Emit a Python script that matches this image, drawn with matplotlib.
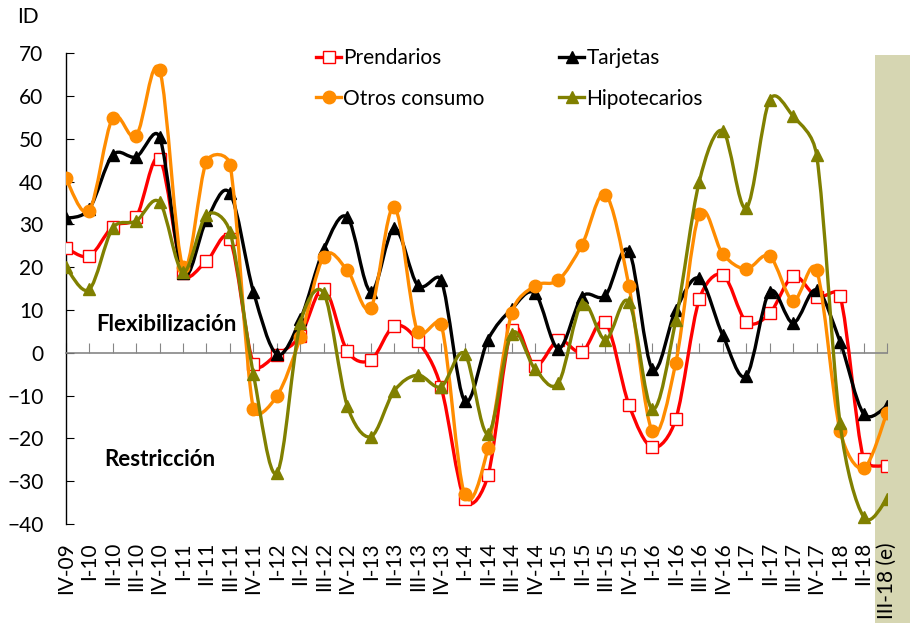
import numpy as np
import matplotlib
matplotlib.use("Agg")
import matplotlib.pyplot as plt
from matplotlib.path import Path
from matplotlib.patches import PathPatch, Rectangle
from matplotlib.lines import Line2D

plt.rcParams['font.family'] = ['Lato', 'DejaVu Sans']

# Data
quarters = ["IV-09", "I-10", "II-10", "III-10", "IV-10", "I-11", "II-11", "III-11",
            "IV-11", "I-12", "II-12", "III-12", "IV-12", "I-13", "II-13", "III-13",
            "IV-13", "I-14", "II-14", "III-14", "IV-14", "I-15", "II-15", "III-15",
            "IV-15", "I-16", "II-16", "III-16", "IV-16", "I-17", "II-17", "III-17",
            "IV-17", "I-18", "II-18", "III-18 (e)"]

prendarios = [24.6, 22.6, 29.5, 31.7, 45.4, 18.6, 21.4, 26.5,
              -2.5, -0.4, 4.0, 15.0, 0.4, -1.7, 6.3, 2.8,
              -8.1, -34.2, -28.6, 5.3, -3.0, 3.0, 0.2, 7.2,
              -12.1, -22.1, -15.5, 12.5, 18.3, 7.3, 9.2, 17.9,
              13.1, 13.3, -24.7, -26.4]

tarjetas = [31.4, 33.6, 46.2, 45.8, 50.4, 18.6, 31.0, 37.3,
            14.3, -0.3, 7.8, 24.2, 31.7, 14.3, 29.1, 15.8,
            17.0, -11.2, 3.1, 10.2, 13.9, 1.0, 13.1, 13.4,
            23.8, -3.8, 10.0, 17.4, 4.1, -5.4, 14.3, 7.0,
            14.7, 2.6, -14.2, -12.5]

otros_consumo = [40.8, 33.2, 54.8, 50.7, 66.1, 20.1, 44.7, 44.0,
                 -13.2, -10.1, 3.6, 22.5, 19.3, 10.5, 34.1, 4.8,
                 6.7, -33.1, -22.2, 9.2, 15.7, 17.0, 25.2, 37.0,
                 15.7, -18.3, -2.3, 32.4, 23.1, 19.6, 22.6, 12.2,
                 19.3, -18.2, -27.0, -14.0]

hipotecarios = [20.1, 14.8, 29.1, 30.8, 35.2, 18.9, 32.2, 28.3,
                -5.0, -28.1, 7.0, 13.9, -12.4, -19.6, -8.9, -5.2,
                -7.9, -0.2, -18.9, 4.5, -3.8, -7.0, 11.5, 3.1,
                11.9, -13.2, 7.6, 40.0, 51.9, 33.8, 59.1, 55.3,
                46.2, -16.4, -38.3, -34.2]

# pixels per data unit, used so the smoothing behaves like a spreadsheet's
PX_X = 23.49
PX_Y = 4.277


def smooth_path(xs, ys):
    # Bezier segments, tangent arms 1/6 of the chord, capped at half the segment
    p = np.column_stack([xs, ys]).astype(float)
    s = np.array([PX_X, PX_Y])
    n = len(p)
    verts = [p[0]]
    codes = [Path.MOVETO]
    for i in range(n - 1):
        p0 = p[i - 1] if i > 0 else p[i]
        p1 = p[i]
        p2 = p[i + 1]
        p3 = p[i + 2] if i + 2 < n else p[i + 1]
        d02 = np.hypot(*((p2 - p0) * s))
        d12 = np.hypot(*((p2 - p1) * s))
        d13 = np.hypot(*((p3 - p1) * s))
        f1 = 1 / 6 if d02 / 6 < d12 / 2 or d02 == 0 else d12 / (2 * d02)
        f2 = 1 / 6 if d13 / 6 < d12 / 2 or d13 == 0 else d12 / (2 * d13)
        c1 = p1 + (p2 - p0) * f1
        c2 = p2 - (p3 - p1) * f2
        verts += [c1, c2, p2]
        codes += [Path.CURVE4] * 3
    return Path(verts, codes)


fig = plt.figure(figsize=(9.1, 6.27), dpi=100)
ax = fig.add_axes([0.0722, 0.1643, 0.9025, 0.7507])
ax.patch.set_alpha(0)

# shaded estimate band
fig.add_artist(Rectangle((875 / 910, 0.006), 35 / 910, 1 - 55 / 627 - 0.006,
                         transform=fig.transFigure, facecolor="#D6D6B2",
                         edgecolor="none", zorder=-1))

x = np.arange(len(quarters))
series = [
    ("Prendarios", prendarios, "#FF0000", dict(marker="s", markersize=8.5, markerfacecolor="white",
                                              markeredgecolor="#FF0000", markeredgewidth=1.0)),
    ("Tarjetas", tarjetas, "black", dict(marker="^", markersize=8.5, markerfacecolor="black",
                                         markeredgecolor="black")),
    ("Otros consumo", otros_consumo, "#FF8C00", dict(marker="o", markersize=9, markerfacecolor="#FF8C00",
                                                      markeredgecolor="#FF8C00")),
    ("Hipotecarios", hipotecarios, "#808000", dict(marker="^", markersize=8.5, markerfacecolor="#808000",
                                                    markeredgecolor="#808000")),
]

handles = []
for k, (name, vals, col, mk) in enumerate(series):
    ax.add_patch(PathPatch(smooth_path(x, vals), facecolor="none", edgecolor=col,
                           linewidth=2.4, zorder=3 + k, capstyle="round", joinstyle="round"))
    ax.plot(x, vals, linestyle="none", zorder=3 + k, **mk)
    handles.append(Line2D([], [], color=col, linewidth=2.4, label=name, **mk))

ax.set_xlim(0, len(quarters) - 1)
ax.set_ylim(-40, 70)
ax.set_yticks(np.arange(-40, 71, 10))

for s in ["top", "right"]:
    ax.spines[s].set_visible(False)
ax.spines["left"].set_color("black")
ax.spines["left"].set_linewidth(1.0)
ax.spines["bottom"].set_position(("data", 0))
ax.spines["bottom"].set_color("#868686")
ax.spines["bottom"].set_linewidth(1.2)

ax.set_xticks(x)
ax.tick_params(axis="x", direction="in", length=7, color="#868686", labelbottom=False)
ax.tick_params(axis="y", direction="in", length=6, labelsize=15, pad=16)

sec = ax.secondary_xaxis("bottom")
sec.set_xticks(x, quarters, rotation=90)
sec.tick_params(length=0, labelsize=15, pad=13)
sec.spines["bottom"].set_visible(False)

fig.text(17 / 910, 1 - 7 / 627, "ID", fontsize=15, va="top", ha="left")

ax.text(4.31, 6.7, "Flexibilización", fontsize=16, fontweight="bold", ha="center", va="center")
ax.text(4.02, -24.9, "Restricción", fontsize=16, fontweight="bold", ha="center", va="center")

fig.legend(handles=handles[0:1] + handles[2:3] + handles[1:2] + handles[3:4],
           ncol=2, frameon=False, loc="upper left",
           bbox_to_anchor=(316 / 910, 1 - 48.5 / 627), borderpad=0, borderaxespad=0,
           handlelength=1.2, handletextpad=0.1, columnspacing=3.6, labelspacing=0.97,
           fontsize=15)

fig.savefig("out.png", dpi=100)
